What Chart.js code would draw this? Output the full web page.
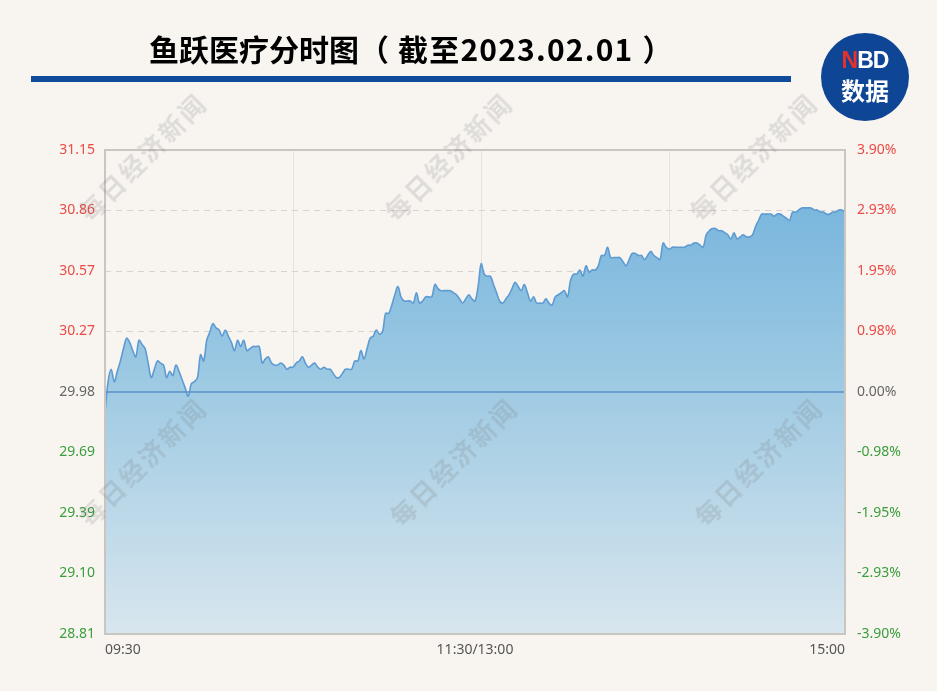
<!DOCTYPE html>
<html><head><meta charset="utf-8">
<script src="https://cdn.jsdelivr.net/npm/chart.js@4.4.1/dist/chart.umd.min.js"></script>
<style>
html,body{margin:0;padding:0;background:#f8f5f1;}
#wrap{position:relative;width:937px;height:691px;overflow:hidden;background:#f8f5f1;}
#c{position:absolute;left:0;top:0;}
#title{position:absolute;left:149px;top:33px;white-space:nowrap;font:bold 30px "Noto Sans CJK SC","Noto Sans",sans-serif;color:#000;line-height:30px;}
#title .d{letter-spacing:1.2px;}
#title .g{display:inline-block;width:9px;}
#bar{position:absolute;left:31px;top:76px;width:760px;height:6px;background:#0f4b9a;}
#logo{position:absolute;left:821px;top:33px;width:88px;height:88px;border-radius:50%;background:#0e4594;color:#fff;text-align:center;font-family:"Noto Sans CJK SC","Liberation Sans",sans-serif;font-weight:bold;}
#logo .n{position:absolute;left:0;width:88px;top:14px;font:bold 23px "Liberation Sans",sans-serif;letter-spacing:-1px;}
#logo .n span{color:#e8302b;}
#logo .s{position:absolute;left:0;width:88px;top:42px;font:bold 24px "Noto Sans CJK SC",sans-serif;line-height:30px;}
.wm{position:absolute;white-space:nowrap;font:bold 25px "Noto Sans CJK SC",sans-serif;line-height:25px;letter-spacing:3px;color:rgba(110,110,110,0.19);transform:rotate(-45deg);transform-origin:0 0;pointer-events:none;}
</style></head>
<body><div id="wrap">
<canvas id="c" width="937" height="691"></canvas>
<div id="title">鱼跃医疗分时图（<span class="g"></span><span class="d">截至2023.02.01</span><span class="g"></span>）</div>
<div id="bar"></div>
<div id="logo"><div class="n"><span>N</span>BD</div><div class="s">数据</div></div>
<div class="wm" style="left:74px;top:207px;">每日经济新闻</div>
<div class="wm" style="left:380px;top:207px;">每日经济新闻</div>
<div class="wm" style="left:685px;top:207px;">每日经济新闻</div>
<div class="wm" style="left:74px;top:512px;">每日经济新闻</div>
<div class="wm" style="left:385px;top:512px;">每日经济新闻</div>
<div class="wm" style="left:690px;top:512px;">每日经济新闻</div>
</div>
<script>
// ---- data ----
const sessions = [["09:30", 121], ["13:01", 120]];
const prices = [
29.88,30.03,30.09,30.03,30.08,30.13,30.19,30.24,30.22,30.18,
30.15,30.23,30.21,30.19,30.12,30.05,30.09,30.13,30.12,30.11,
30.05,30.08,30.06,30.11,30.08,30.04,30.00,29.96,30.02,30.03,
30.05,30.16,30.13,30.23,30.27,30.31,30.29,30.28,30.25,30.28,
30.25,30.22,30.18,30.23,30.20,30.23,30.18,30.19,30.20,30.20,
30.20,30.12,30.14,30.15,30.12,30.11,30.11,30.12,30.11,30.09,
30.10,30.10,30.12,30.13,30.15,30.12,30.10,30.11,30.12,30.10,
30.09,30.10,30.09,30.09,30.07,30.05,30.05,30.07,30.09,30.09,
30.09,30.13,30.13,30.18,30.14,30.19,30.24,30.25,30.28,30.26,
30.27,30.36,30.36,30.40,30.45,30.49,30.44,30.42,30.42,30.42,
30.41,30.46,30.41,30.42,30.44,30.44,30.44,30.50,30.48,30.47,
30.47,30.47,30.47,30.46,30.45,30.43,30.41,30.43,30.45,30.43,
30.42,30.49,30.60,30.55,30.54,30.54,30.50,30.46,30.42,30.41,
30.43,30.45,30.48,30.51,30.49,30.47,30.50,30.46,30.42,30.44,
30.41,30.41,30.41,30.43,30.41,30.40,30.44,30.45,30.46,30.47,
30.44,30.52,30.55,30.55,30.57,30.54,30.59,30.56,30.57,30.57,
30.59,30.64,30.64,30.68,30.63,30.63,30.63,30.63,30.61,30.59,
30.62,30.65,30.65,30.64,30.64,30.62,30.64,30.66,30.64,30.63,
30.62,30.70,30.68,30.67,30.68,30.68,30.68,30.68,30.68,30.69,
30.69,30.70,30.70,30.69,30.68,30.74,30.76,30.77,30.77,30.76,
30.76,30.75,30.74,30.72,30.75,30.72,30.73,30.74,30.73,30.73,
30.74,30.78,30.81,30.84,30.84,30.84,30.84,30.83,30.84,30.84,
30.83,30.82,30.81,30.85,30.85,30.86,30.87,30.87,30.87,30.87,
30.86,30.86,30.85,30.85,30.84,30.84,30.85,30.85,30.86,30.86,
30.85];
const baseValue = 29.98;
const yMin = 28.81, yMax = 31.15;
const leftTickLabels  = ["28.81","29.10","29.39","29.69","29.98","30.27","30.57","30.86","31.15"];
const rightTickLabels = ["-3.90%","-2.93%","-1.95%","-0.98%","0.00%","0.98%","1.95%","2.93%","3.90%"];
const xTickIndex  = [0, 120, 240];
const xTickLabels = ["09:30", "11:30/13:00", "15:00"];
const xGridIndex  = [61, 122, 183];

// category labels (minute times)
const labels = [];
sessions.forEach(([start, n]) => {
  let [h, m] = start.split(":").map(Number);
  for (let k = 0; k < n; k++) {
    labels.push(String(h).padStart(2,"0") + ":" + String(m).padStart(2,"0"));
    m++; if (m === 60) { m = 0; h++; }
  }
});

const RED = "#ec4a45", GREEN = "#3a9e3c", GRAY = "#666666";
const baseIdx = leftTickLabels.indexOf("29.98");
function tickColor(ctx){ return ctx.index > baseIdx ? RED : (ctx.index < baseIdx ? GREEN : GRAY); }
function setTicks(scale){
  const n = leftTickLabels.length;
  scale.ticks = leftTickLabels.map((_, i) => ({ value: scale.min + i * (scale.max - scale.min) / (n - 1) }));
}

const framePlugin = {
  id: "frame",
  afterDatasetsDraw(chart){
    const {ctx, chartArea: a, scales} = chart;
    const y = scales.y.getPixelForValue(baseValue);
    ctx.save();
    ctx.strokeStyle = "#5b8fc8"; ctx.lineWidth = 1.5;
    ctx.beginPath(); ctx.moveTo(a.left, y); ctx.lineTo(a.right, y); ctx.stroke();
    ctx.strokeStyle = "#c9c5c1"; ctx.lineWidth = 2;
    ctx.strokeRect(a.left, a.top, a.right - a.left, a.bottom - a.top);
    ctx.restore();
  }
};

new Chart(document.getElementById("c"), {
  type: "line",
  data: {
    labels,
    datasets: [{
      data: prices,
      borderColor: "#5d9bd2",
      borderWidth: 1.6,
      pointRadius: 0,
      tension: 0.35,
      fill: "start",
      backgroundColor(ctx){
        const a = ctx.chart.chartArea;
        if (!a) return "rgba(120,180,220,0.6)";
        const g = ctx.chart.ctx.createLinearGradient(0, a.top, 0, a.bottom);
        g.addColorStop(0, "#6fb0dc");
        g.addColorStop(0.45, "#9ac8e2");
        g.addColorStop(1, "#d8e6ee");
        return g;
      }
    }]
  },
  options: {
    responsive: false,
    animation: false,
    layout: { padding: { top: 150, left: 0, right: 0, bottom: 0 } },
    plugins: { legend: { display: false }, tooltip: { enabled: false } },
    scales: {
      x: {
        type: "category",
        offset: false,
        afterFit(s){ s.height = 57; },
        grid: { drawTicks: false, color(ctx){ return xGridIndex.includes(ctx.index) ? "#e6e3df" : "rgba(0,0,0,0)"; }, lineWidth: 1 },
        border: { display: false },
        ticks: {
          autoSkip: false, maxRotation: 0, minRotation: 0, align: "inner", padding: 8,
          color: "#555", font: { family: "Noto Sans", size: 14 },
          callback(v, i){ const k = xTickIndex.indexOf(i); return k >= 0 ? xTickLabels[k] : ""; }
        }
      },
      y: {
        position: "left",
        min: yMin, max: yMax,
        afterFit(s){ s.width = 105; },
        afterBuildTicks: setTicks,
        grid: { drawTicks: false, color(ctx){ return ctx.index === baseIdx ? "rgba(0,0,0,0)" : "#d8d3ce"; } },
        border: { display: false, dash: [6, 5] },
        ticks: { padding: 10, color: tickColor, font: { family: "Noto Sans", size: 14 },
          callback(v, i){ return leftTickLabels[i]; } }
      },
      y1: {
        position: "right",
        min: yMin, max: yMax,
        afterFit(s){ s.width = 92; },
        afterBuildTicks: setTicks,
        grid: { display: false },
        border: { display: false },
        ticks: { padding: 4, color: tickColor, font: { family: "Noto Sans", size: 14 },
          callback(v, i){ return rightTickLabels[i]; } }
      }
    }
  },
  plugins: [framePlugin]
});
</script>
</body></html>
